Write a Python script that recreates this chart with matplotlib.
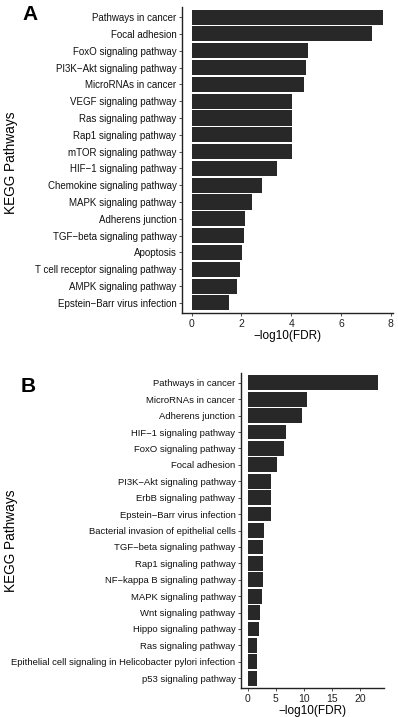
import matplotlib
matplotlib.use("Agg")
import matplotlib.pyplot as plt
import numpy as np

plt.rcParams['font.family'] = ['Liberation Sans', 'DejaVu Sans']

# Panel A data
a_pathways = ["Pathways in cancer", "Focal adhesion", "FoxO signaling pathway",
              "PI3K\u2212Akt signaling pathway", "MicroRNAs in cancer", "VEGF signaling pathway",
              "Ras signaling pathway", "Rap1 signaling pathway", "mTOR signaling pathway",
              "HIF\u22121 signaling pathway", "Chemokine signaling pathway", "MAPK signaling pathway",
              "Adherens junction", "TGF\u2212beta signaling pathway", "Apoptosis",
              "T cell receptor signaling pathway", "AMPK signaling pathway",
              "Epstein\u2212Barr virus infection"]
a_values = [7.70, 7.25, 4.68, 4.61, 4.51, 4.04, 4.04, 4.04, 4.04, 3.44,
            2.83, 2.41, 2.15, 2.09, 2.03, 1.95, 1.83, 1.51]
a_ticks = [0, 2, 4, 6, 8]

# Panel B data
b_pathways = ["Pathways in cancer", "MicroRNAs in cancer", "Adherens junction",
              "HIF\u22121 signaling pathway", "FoxO signaling pathway", "Focal adhesion",
              "PI3K\u2212Akt signaling pathway", "ErbB signaling pathway",
              "Epstein\u2212Barr virus infection", "Bacterial invasion of epithelial cells",
              "TGF\u2212beta signaling pathway", "Rap1 signaling pathway",
              "NF\u2212kappa B signaling pathway", "MAPK signaling pathway",
              "Wnt signaling pathway", "Hippo signaling pathway", "Ras signaling pathway",
              "Epithelial cell signaling in Helicobacter pylori infection",
              "p53 signaling pathway"]
b_values = [23.1, 10.65, 9.7, 6.9, 6.57, 5.27, 4.15, 4.15, 4.15, 2.96,
            2.84, 2.84, 2.72, 2.5, 2.25, 2.13, 1.72, 1.72, 1.72]
b_ticks = [0, 5, 10, 15, 20]

W, H = 398, 717
fig = plt.figure(figsize=(W / 100, H / 100), dpi=100)
fig.patch.set_facecolor('white')


def px_axes(left, top, right, bottom):
    return fig.add_axes([left / W, 1 - bottom / H, (right - left) / W, (bottom - top) / H])


def panel(ax, names, vals, ticks, letter, letter_xy, ylab_y, lab_size):
    n = len(names)
    pos = np.arange(n, 0, -1)
    ax.barh(pos, vals, height=0.9, color='#282828', edgecolor='none')
    ax.set_ylim(0.4, n + 0.6)
    span = max(vals)
    ax.set_xlim(-0.05 * span, 1.05 * span)
    ax.set_yticks(pos)
    ax.set_yticklabels(names, fontsize=lab_size, color='#111111')
    ax.set_xticks(ticks)
    ax.set_xticklabels([str(t) for t in ticks], fontsize=7.5, color='#222222')
    ax.tick_params(axis='y', length=2, width=0.6, pad=2, color='#333333')
    ax.tick_params(axis='x', length=2, width=0.6, pad=2, color='#333333')
    for s in ['top', 'right']:
        ax.spines[s].set_visible(False)
    for s in ['left', 'bottom']:
        ax.spines[s].set_linewidth(1.0)
        ax.spines[s].set_color('#222222')
    ax.set_xlabel('\u2212log10(FDR)', fontsize=8.5, labelpad=1)
    fig.text(letter_xy[0] / W, 1 - letter_xy[1] / H, letter, fontsize=15,
             fontweight='bold', ha='center', va='center')
    fig.text(11 / W, 1 - ylab_y / H, 'KEGG Pathways', fontsize=9.8, rotation=90,
             ha='center', va='center')


ax_a = px_axes(182, 7, 393, 313)
panel(ax_a, a_pathways, a_values, a_ticks, 'A', (30, 14), 163, 7.0)

ax_b = px_axes(241, 373, 384, 688)
panel(ax_b, b_pathways, b_values, b_ticks, 'B', (28, 387), 541, 6.8)

fig.savefig('out.png', dpi=100, facecolor='white')
